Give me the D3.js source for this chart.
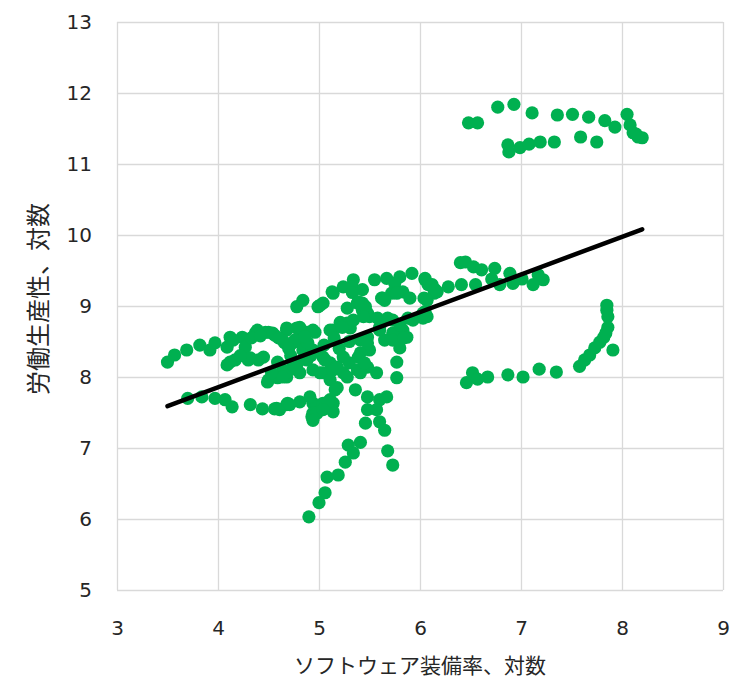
<!DOCTYPE html>
<html lang="ja">
<head>
    <meta charset="UTF-8">
    <title>ソフトウェア装備率と労働生産性</title>
    <script src="https://d3js.org/d3.v7.min.js"></script>
    <style>
        body {
            margin: 0;
            background-color: white;
        }
        .grid line {
            stroke: #d9d9d9;
            stroke-width: 1.3px;
        }
        .tick text {
            font-family: "DejaVu Sans", Verdana, sans-serif;
            font-size: 20px;
            fill: #262626;
        }
        .axis-title {
            font-family: "Noto Sans CJK JP", sans-serif;
            fill: #262626;
        }
    </style>
</head>
<body>
    <script>
        // ソフトウェア装備率(対数) / 労働生産性(対数)
        const softwareLog = [
            6.48, 6.57, 6.77, 6.93, 7.11, 7.36, 7.51, 7.67, 7.83, 7.93, 8.05, 8.08, 8.11, 8.14, 8.16, 8.20,
            6.87, 6.88, 6.99, 7.08, 7.19, 7.33, 7.59, 7.75,
            6.46, 6.52, 6.57, 6.67, 6.87, 7.02, 7.18, 7.35, 7.58, 7.63, 7.68, 7.73, 7.78, 7.82, 7.86, 7.86, 7.85, 7.85, 7.91, 7.84,
            6.40, 6.45, 6.53, 6.61, 6.74, 6.89, 7.17, 7.22, 7.12, 7.01, 6.92, 6.79, 6.71, 6.55, 6.41, 6.28, 6.14, 6.04, 6.05, 6.08, 6.03, 6.05,
            5.55, 5.67, 5.80, 5.92, 6.05, 6.12, 6.17, 5.75, 5.63, 5.72, 5.83, 5.90, 6.07, 5.93, 5.83, 5.87, 5.73, 5.65, 5.80, 5.77, 5.60, 5.50, 5.48, 5.50, 5.46, 5.43, 5.77,
            5.34, 5.33, 5.24, 5.14, 5.04, 4.99, 5.38, 5.43, 5.28, 5.65, 5.62, 5.77, 5.48, 5.58, 5.68, 5.80, 5.21, 5.14, 5.31, 4.84, 4.88, 4.96,
            5.01, 5.13, 5.33, 5.39, 5.43, 6.07, 6.15, 5.28, 5.73, 5.88, 6.03, 5.60, 5.73, 5.84, 5.41, 5.41, 5.24, 5.11, 4.94, 4.81, 4.81, 4.94, 4.68, 4.66,
            4.64, 4.78, 4.94, 5.04, 5.14, 5.24, 5.38, 5.48, 5.57, 5.36, 5.18, 5.14, 5.11, 4.94, 4.94, 4.69, 4.81, 5.48, 5.48, 5.60, 5.67, 5.57, 5.46, 5.60,
            5.65, 5.68, 5.73, 5.04, 5.13, 5.14, 4.93, 4.61, 5.41, 5.29, 5.34, 5.26, 5.19, 5.08, 5.06, 5.00, 4.90,
            3.50, 3.57, 3.69, 3.82, 3.92, 3.97, 4.09, 4.12, 4.24, 4.27, 4.37, 4.47, 4.56, 4.64, 4.09, 4.17, 4.30, 4.40, 4.50, 4.59, 4.68,
            3.70, 3.84, 3.97, 4.07, 4.14, 4.32, 4.44, 4.56, 4.68,
            4.78, 4.39, 4.50, 4.78, 4.74, 4.84, 5.04, 4.79, 4.68, 4.55, 4.49, 4.32, 4.12, 4.91, 4.98, 4.94,
            4.54, 4.68, 4.81, 4.76, 4.89, 5.11, 5.23, 5.34, 5.44, 5.48, 5.39, 5.18, 5.06, 5.01, 5.11, 5.28, 5.41, 4.81, 4.64, 4.53, 4.59, 4.74, 4.88, 5.16, 4.58, 4.71, 5.09, 5.04,
            4.15, 4.33, 4.42, 4.60, 4.22, 4.45, 4.70, 4.86, 4.92, 4.72, 5.05, 5.20, 5.30, 5.15, 5.30, 5.45
        ];
        const productivityLog = [
            11.58, 11.58, 11.80, 11.84, 11.72, 11.69, 11.70, 11.66, 11.61, 11.52, 11.70, 11.55, 11.44, 11.42, 11.38, 11.37,
            11.27, 11.17, 11.23, 11.28, 11.31, 11.31, 11.38, 11.31,
            7.92, 8.06, 7.97, 8.00, 8.03, 8.00, 8.11, 8.07, 8.15, 8.24, 8.31, 8.41, 8.49, 8.56, 8.70, 8.85, 8.94, 9.01, 8.38, 8.62,
            9.61, 9.62, 9.55, 9.51, 9.53, 9.46, 9.44, 9.37, 9.30, 9.38, 9.32, 9.30, 9.38, 9.30, 9.30, 9.27, 9.18, 9.11, 9.37, 9.30, 8.83, 8.92,
            9.37, 9.39, 9.41, 9.46, 9.39, 9.30, 9.20, 9.32, 9.11, 9.18, 9.20, 9.11, 8.85, 8.80, 8.66, 8.56, 8.62, 8.52, 8.41, 8.21, 8.70, 8.85, 8.56, 8.38, 8.99, 9.23, 7.99,
            9.37, 9.27, 9.27, 9.18, 9.04, 8.99, 9.04, 9.04, 8.97, 9.08, 9.11, 9.18, 8.90, 8.83, 8.83, 8.73, 8.77, 8.66, 8.69, 9.08, 8.63, 8.63,
            9.01, 9.20, 9.19, 9.06, 8.94, 9.08, 9.23, 8.76, 8.80, 8.83, 8.90, 8.66, 8.52, 8.55, 8.52, 8.34, 8.28, 8.20, 8.38, 8.52, 8.66, 8.66, 8.66, 8.48,
            8.10, 8.10, 8.10, 8.06, 8.10, 8.06, 8.10, 8.14, 8.06, 7.82, 7.85, 7.63, 7.68, 7.63, 7.49, 7.63, 7.65, 7.72, 7.54, 7.68, 7.72, 7.54, 7.35, 7.37,
            7.25, 6.96, 6.76, 7.63, 7.61, 7.51, 7.44, 7.54, 7.08, 7.04, 6.93, 6.80, 6.62, 6.59, 6.37, 6.23, 6.03,
            8.21, 8.31, 8.38, 8.45, 8.38, 8.48, 8.42, 8.56, 8.56, 8.42, 8.62, 8.63, 8.59, 8.52, 8.17, 8.24, 8.24, 8.24, 7.96, 7.99, 8.00,
            7.70, 7.72, 7.70, 7.68, 7.58, 7.61, 7.55, 7.55, 7.61,
            8.99, 8.66, 8.63, 8.69, 8.48, 8.38, 8.28, 8.20, 8.06, 8.00, 7.93, 8.27, 8.21, 7.72, 7.49, 7.39,
            8.62, 8.69, 8.70, 8.52, 8.48, 8.66, 8.70, 8.80, 8.85, 8.48, 8.28, 8.14, 8.24, 8.06, 7.96, 8.00, 8.06, 8.06, 8.00, 8.06, 8.21, 8.17, 8.24, 7.82, 7.56, 7.61, 7.65, 7.54,
            8.52, 8.55, 8.58, 8.55, 8.30, 8.28, 8.40, 8.57, 8.30, 8.30, 8.45, 8.40, 8.50, 8.55, 8.20, 8.20
        ];
        // 近似直線の両端
        const trendX = [3.5, 8.2];
        const trendY = [7.59, 10.08];

        const xTicks = [3, 4, 5, 6, 7, 8, 9];
        const yTicks = [5, 6, 7, 8, 9, 10, 11, 12, 13];

        const width = 732;
        const height = 682;
        const margin = {top: 22, right: 9, bottom: 92, left: 117};

        const svg = d3.select("body").append("svg")
            .attr("width", width)
            .attr("height", height);

        const x = d3.scaleLinear()
            .domain([3, 9])
            .range([margin.left, width - margin.right]);
        const y = d3.scaleLinear()
            .domain([5, 13])
            .range([height - margin.bottom, margin.top]);

        const plotH = height - margin.bottom - margin.top;
        const plotW = width - margin.right - margin.left;

        // gridlines + tick labels
        const xAxis = svg.append("g")
            .attr("class", "grid")
            .attr("transform", "translate(0," + (height - margin.bottom) + ")")
            .call(d3.axisBottom(x).tickValues(xTicks).tickSize(-plotH).tickPadding(31).tickFormat(d3.format("d")));
        xAxis.select(".domain").remove();

        const yAxis = svg.append("g")
            .attr("class", "grid")
            .attr("transform", "translate(" + margin.left + ",0)")
            .call(d3.axisLeft(y).tickValues(yTicks).tickSize(-plotW).tickPadding(25).tickFormat(d3.format("d")));
        yAxis.select(".domain").remove();

        // points
        const points = softwareLog.map((v, i) => ({x: v, y: productivityLog[i]}));
        svg.append("g")
            .selectAll("circle")
            .data(points)
            .enter().append("circle")
            .attr("cx", d => x(d.x))
            .attr("cy", d => y(d.y))
            .attr("r", 6.6)
            .attr("fill", "#00b050");

        // trend line
        svg.append("line")
            .attr("x1", x(trendX[0]))
            .attr("y1", y(trendY[0]))
            .attr("x2", x(trendX[1]))
            .attr("y2", y(trendY[1]))
            .attr("stroke", "#000")
            .attr("stroke-width", 4.5)
            .attr("stroke-linecap", "round");

        // axis titles
        svg.append("text")
            .attr("class", "axis-title")
            .attr("x", 420)
            .attr("y", 673)
            .attr("text-anchor", "middle")
            .style("font-size", "21px")
            .text("ソフトウェア装備率、対数");

        svg.append("text")
            .attr("class", "axis-title")
            .attr("transform", "translate(47," + y(9.1) + ")rotate(-90)")
            .attr("text-anchor", "middle")
            .style("font-size", "24px")
            .text("労働生産性、対数");
    </script>
</body>
</html>
